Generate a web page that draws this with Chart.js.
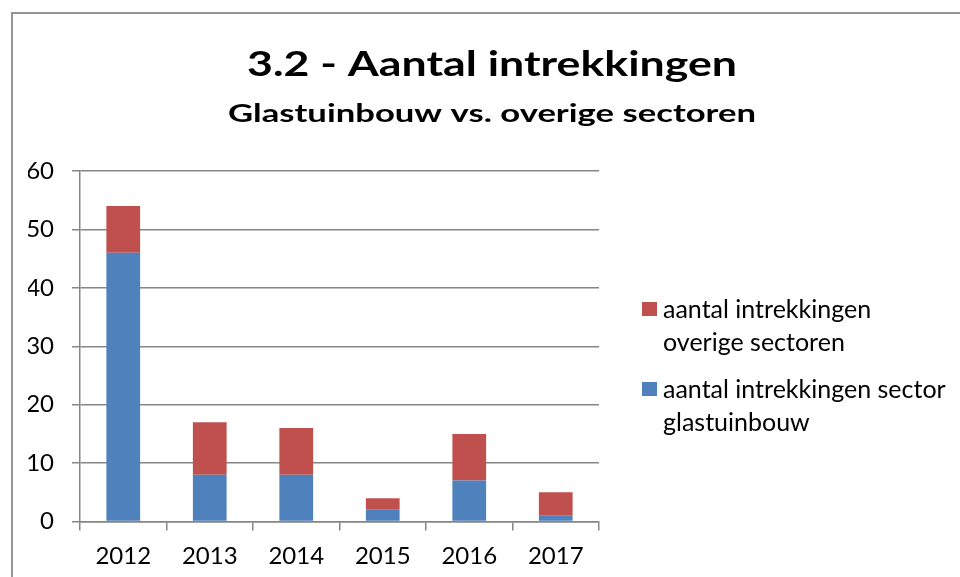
<!DOCTYPE html>
<html>
<head>
<meta charset="utf-8">
<script src="https://cdn.jsdelivr.net/npm/chart.js@4/dist/chart.umd.min.js"></script>
<style>
  html, body { margin: 0; padding: 0; background: #fff; }
  #wrap { position: relative; width: 960px; height: 577px; overflow: hidden; }
  #frame { position: absolute; left: 11px; top: 12px; right: -4px; bottom: -4px; border: 2px solid #959595; }
  #legend { position: absolute; left: 642px; top: 292px; font-family: Lato, sans-serif; font-size: 25px; color: #000; }
  #legend .item { position: relative; padding-left: 21px; line-height: 33px; margin-bottom: 14px; width: 310px; white-space: nowrap; }
  #legend .box { position: absolute; left: 0; top: 10px; width: 15px; height: 14px; }
</style>
</head>
<body>
<div id="wrap">
  <div id="frame"></div>
  <canvas id="chart" width="960" height="577"></canvas>
  <div id="legend"></div>
</div>
<script>
const years = ['2012', '2013', '2014', '2015', '2016', '2017'];
const glastuinbouw = [46, 8, 8, 2, 7, 1];
const overige = [8, 9, 8, 2, 8, 4];
const yTicks = [0, 10, 20, 30, 40, 50, 60];

const font = 'Lato, sans-serif';
const mainTitle = '3.2 - Aantal intrekkingen';
const subTitle = 'Glastuinbouw vs. overige sectoren';

// draw a line of text centred at cx, squeezed/stretched to a given width
function wideText(ctx, text, cx, baseline, width) {
  const w = ctx.measureText(text).width;
  ctx.save();
  ctx.translate(cx, baseline);
  ctx.scale(width / w, 1);
  ctx.fillText(text, 0, 0);
  ctx.restore();
}

// title centred on the whole frame, not on the plot
const titlePlugin = {
  id: 'frameTitle',
  afterDraw(chart) {
    const ctx = chart.ctx;
    ctx.save();
    ctx.fillStyle = '#000';
    ctx.textAlign = 'center';
    ctx.textBaseline = 'alphabetic';
    ctx.font = 'bold 35px ' + font;
    wideText(ctx, mainTitle, 492, 76, 490);
    ctx.font = 'bold 25px ' + font;
    wideText(ctx, subTitle, 492, 122, 528);
    ctx.restore();
  }
};

const chart = new Chart(document.getElementById('chart'), {
  type: 'bar',
  data: {
    labels: years,
    datasets: [{
      label: 'aantal intrekkingen sector glastuinbouw',
      legendLines: ['aantal intrekkingen sector', 'glastuinbouw'],
      data: glastuinbouw,
      backgroundColor: '#4F81BD'
    }, {
      label: 'aantal intrekkingen overige sectoren',
      legendLines: ['aantal intrekkingen', 'overige sectoren'],
      data: overige,
      backgroundColor: '#C0504D'
    }]
  },
  options: {
    responsive: false,
    animation: false,
    layout: { padding: { left: 28, right: 361, top: 171, bottom: 0 } },
    datasets: { bar: { categoryPercentage: 1, barPercentage: 0.39 } },
    plugins: {
      legend: { display: false },
      tooltip: { enabled: false },
      title: { display: false }
    },
    scales: {
      x: {
        stacked: true,
        offset: true,
        afterFit: (axis) => { axis.height = 55.5; },
        grid: { offset: true, drawOnChartArea: false, color: '#868686', lineWidth: 1.5, tickLength: 9, tickColor: '#868686' },
        border: { color: '#868686', width: 1.5 },
        ticks: { color: '#000', font: { family: font, size: 24 }, padding: 11 }
      },
      y: {
        stacked: true,
        min: 0,
        max: 60,
        afterBuildTicks: (axis) => { axis.ticks = yTicks.map(v => ({ value: v })); },
        afterFit: (axis) => { axis.width = 52; },
        grid: { color: '#868686', lineWidth: 1.5, tickLength: 8 },
        border: { color: '#868686', width: 1.5 },
        ticks: { color: '#000', font: { family: font, size: 24 }, padding: 18 }
      }
    }
  },
  plugins: [titlePlugin]
});

// legend, top item first like the original (red above blue)
const legendEl = document.getElementById('legend');
chart.data.datasets.slice().reverse().forEach(ds => {
  const item = document.createElement('div');
  item.className = 'item';
  item.innerHTML = '<span class="box" style="background:' + ds.backgroundColor + '"></span>' + ds.legendLines.join('<br>');
  legendEl.appendChild(item);
});
</script>
</body>
</html>
